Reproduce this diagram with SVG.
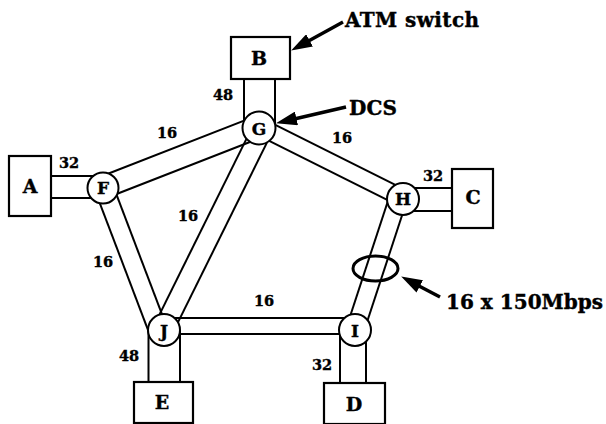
<svg xmlns="http://www.w3.org/2000/svg" width="606" height="424" viewBox="0 0 606 424">
<defs>
<style>
.pipe line{stroke:#000;stroke-width:2;fill:none}
.box{fill:#fff;stroke:#000;stroke-width:2.2}
.dcs{fill:#fff;stroke:#000;stroke-width:2}
text{font-family:"DejaVu Serif","Liberation Serif",serif;font-weight:bold;fill:#000;stroke:#000;stroke-width:0.4}
.bl{font-size:19px;text-anchor:middle}
.cl{font-size:17px;text-anchor:middle}
.num{font-size:14.5px;text-anchor:middle}
.ann{font-size:20px}
.arr{stroke:#000;stroke-width:3.5;fill:none;marker-end:url(#ah)}
</style>
<marker id="ah" markerUnits="userSpaceOnUse" markerWidth="22" markerHeight="14" viewBox="0 0 22 14" refX="10" refY="7" orient="auto">
<path d="M0,0 L21,7 L0,14 Z" fill="#000"/>
</marker>
</defs>
<rect width="606" height="424" fill="#fff"/>

<g id="connectors" class="pipe">
<g id="pipe-B-G"><line x1="244" y1="79" x2="244" y2="128"/><line x1="275" y1="79" x2="275" y2="128"/></g>
<g id="pipe-A-F"><line x1="51" y1="176" x2="103" y2="176"/><line x1="51" y1="198" x2="103" y2="198"/></g>
<g id="pipe-H-C"><line x1="403" y1="188" x2="452" y2="188"/><line x1="403" y1="211" x2="452" y2="211"/></g>
<g id="pipe-J-E"><line x1="148.5" y1="330" x2="148.5" y2="382"/><line x1="180" y1="330" x2="180" y2="382"/></g>
<g id="pipe-I-D"><line x1="340" y1="330" x2="340" y2="383"/><line x1="366" y1="330" x2="366" y2="383"/></g>
<g id="pipe-J-I"><line x1="164" y1="318" x2="355" y2="318"/><line x1="164" y1="334" x2="355" y2="334"/></g>
<g id="pipe-F-G"><line x1="99" y1="177.25" x2="255" y2="116.35"/><line x1="107" y1="197.75" x2="263" y2="136.85"/></g>
<g id="pipe-G-H"><line x1="262.8" y1="118.7" x2="406.8" y2="190.7"/><line x1="255.2" y1="133.9" x2="399.2" y2="205.9"/></g>
<g id="pipe-G-J"><line x1="254" y1="123.6" x2="154" y2="325.6"/><line x1="272" y1="132.4" x2="172" y2="334.4"/></g>
<g id="pipe-F-J"><line x1="112.7" y1="184.7" x2="166.7" y2="326.7"/><line x1="95.3" y1="191.3" x2="149.3" y2="333.3"/></g>
<g id="pipe-H-I"><line x1="406.5" y1="201.8" x2="363.5" y2="332.8"/><line x1="389.5" y1="196.2" x2="346.5" y2="327.2"/></g>
</g>

<g id="labels">
<text class="num" x="223" y="100">48</text>
<text class="num" x="167" y="138">16</text>
<text class="num" x="69" y="168">32</text>
<text class="num" x="342" y="143">16</text>
<text class="num" x="433" y="181">32</text>
<text class="num" x="188" y="221">16</text>
<text class="num" x="103" y="267">16</text>
<text class="num" x="264" y="306">16</text>
<text class="num" x="129" y="361">48</text>
<text class="num" x="322" y="370">32</text>
</g>

<g id="node-A"><rect class="box" x="9" y="156" width="42" height="60"/><text class="bl" x="30" y="193">A</text></g>
<g id="node-B"><rect class="box" x="231" y="37" width="59" height="42"/><text class="bl" x="259" y="65">B</text></g>
<g id="node-C"><rect class="box" x="452" y="169" width="41" height="59"/><text class="bl" x="473" y="204">C</text></g>
<g id="node-E"><rect class="box" x="134" y="382" width="59" height="41"/><text class="bl" x="162" y="409">E</text></g>
<g id="node-D"><rect class="box" x="324" y="383" width="61" height="41"/><text class="bl" x="354" y="411">D</text></g>

<g id="node-G"><circle class="dcs" cx="259" cy="128" r="16.5"/><text class="cl" x="259" y="134.5">G</text></g>
<g id="node-F"><circle class="dcs" cx="103" cy="188" r="15.5"/><text class="cl" x="103" y="194">F</text></g>
<g id="node-H"><circle class="dcs" cx="403" cy="199" r="16"/><text class="cl" x="403" y="205">H</text></g>
<g id="node-J"><circle class="dcs" cx="164" cy="330" r="16"/><text class="cl" x="164" y="337">J</text></g>
<g id="node-I"><circle class="dcs" cx="355" cy="330" r="16"/><text class="cl" x="355" y="336.5">I</text></g>

<g id="bundle"><ellipse cx="375.5" cy="268.5" rx="22.5" ry="12.5" fill="none" stroke="#000" stroke-width="3"/></g>

<g id="annotations">
<line class="arr" x1="343" y1="22" x2="300.8" y2="45.2"/>
<text class="ann" x="345" y="27" textLength="134">ATM switch</text>
<line class="arr" x1="346" y1="107" x2="286.7" y2="120.7"/>
<text class="ann" x="349" y="115" textLength="48">DCS</text>
<line class="arr" x1="440" y1="297" x2="410.9" y2="281.7"/>
<text class="ann" x="446" y="309" textLength="157">16 x 150Mbps</text>
</g>
</svg>
